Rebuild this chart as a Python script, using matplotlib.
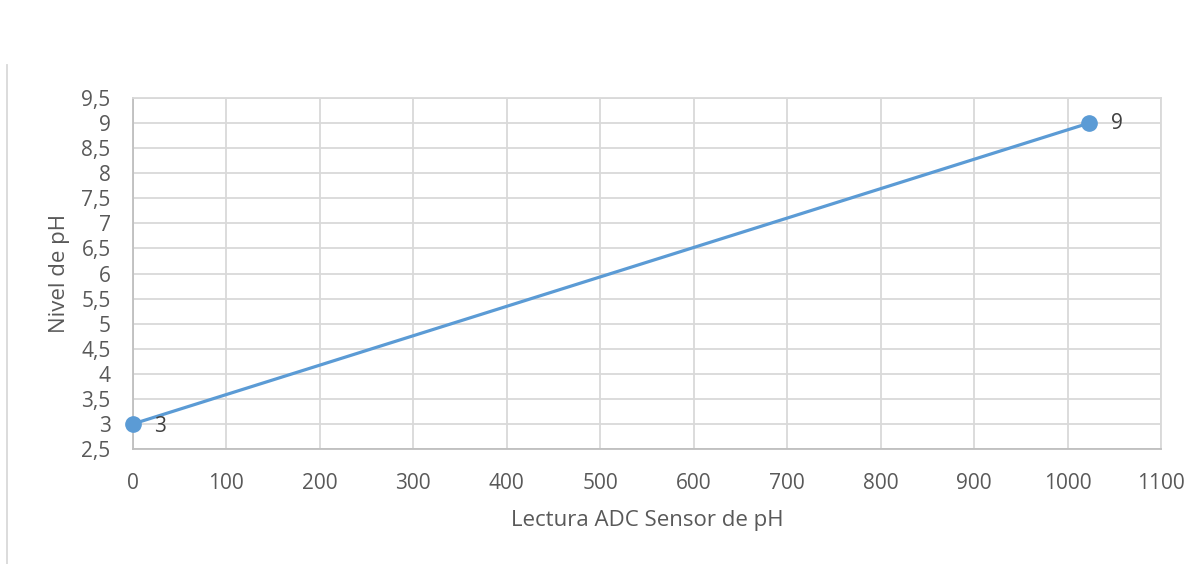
import numpy as np
import matplotlib.pyplot as plt
from matplotlib.lines import Line2D

plt.rcParams['font.family'] = ['Open Sans', 'DejaVu Sans']

# data
adc = [0, 1023]
ph = [3, 9]
xticks = np.arange(0, 1101, 100)
yticks = np.arange(2.5, 9.51, 0.5)
ytick_labels = [('%g' % v).replace('.', ',') for v in yticks]

grey = '#595959'
grid_c = '#d9d9d9'
blue = '#5b9bd5'

fig = plt.figure(figsize=(12, 5.64), dpi=100)
ax = fig.add_axes([0.1108, 0.2039, 0.8567, 0.6223])

ax.plot(adc, ph, color=blue, lw=2.3, marker='o', ms=11, zorder=3, clip_on=False)
ax.annotate('9', (adc[1], ph[1]), textcoords='offset points', xytext=(16, 0),
            va='center', ha='left', fontsize=15, color='#404040')
ax.annotate('3', (adc[0], ph[0]), textcoords='offset points', xytext=(15, -2),
            va='center', ha='left', fontsize=15, color='#404040')

ax.set_xlim(0, 1100)
ax.set_ylim(2.5, 9.5)
ax.set_xticks(xticks)
ax.set_yticks(yticks)
ax.set_yticklabels(ytick_labels)
ax.tick_params(length=0, labelsize=15, labelcolor=grey)
ax.tick_params(axis='y', pad=16)
ax.tick_params(axis='x', pad=17)
ax.grid(True, color=grid_c, lw=1.3)
ax.set_axisbelow(True)
for s in ['top', 'right']:
    ax.spines[s].set_color(grid_c)
    ax.spines[s].set_linewidth(1.3)
for s in ['left', 'bottom']:
    ax.spines[s].set_color('#bfbfbf')
    ax.spines[s].set_linewidth(1.3)

ax.set_xlabel('Lectura ADC Sensor de pH', fontsize=16, color=grey, labelpad=12)
ax.set_ylabel('Nivel de pH', fontsize=16, color=grey, labelpad=8)

# chart frame edge
fig.add_artist(Line2D([0.006, 0.006], [0, 0.885], color=grid_c, lw=1.3))

fig.savefig('out.png', dpi=100)
